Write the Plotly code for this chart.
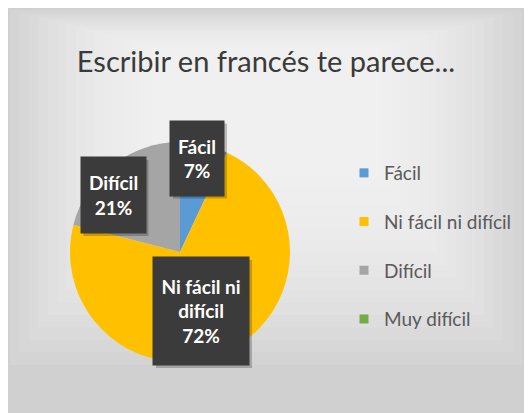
import plotly.graph_objects as go

# ---- data ----
categories = ["Fácil", "Ni fácil ni difícil", "Difícil", "Muy difícil"]
values = [7, 72, 21, 0]
label_texts = ["Fácil<br>7%", "Ni fácil ni<br>difícil<br>72%", "Difícil<br>21%"]
title_text = "Escribir en francés te parece..."
colors = ["#5B9BD5", "#FFC000", "#A5A5A5", "#70AD47"]

W, H = 532, 413
OFF = 8  # page body margin


def px(x):
    return (x - OFF) / W


def py(y):
    return 1 - (y - OFF) / H


fig = go.Figure()

R = 110
cx, cy = 180, 252
fig.add_trace(go.Pie(
    labels=categories, values=values, sort=False, direction="clockwise", rotation=0,
    marker=dict(colors=colors, line=dict(width=0)),
    textinfo="none", hoverinfo="label+percent", showlegend=False,
    domain=dict(x=[px(cx - R), px(cx + R)], y=[py(cy + R), py(cy - R)]),
))

# legend entries
for c, col in zip(categories, colors):
    fig.add_trace(go.Scatter(
        x=[None], y=[None], mode="markers", name=c, legendgroup=c,
        marker=dict(symbol="square", size=9, color=col),
    ))

# background panel with soft gradient imitation
shapes = [dict(type="rect", xref="paper", yref="paper", x0=0, x1=1, y0=0, y1=1,
               fillcolor="#d0d0d0", line=dict(width=0), layer="below")]
steps = 16
for i in range(steps):
    f = i / steps
    shapes.append(dict(type="rect", xref="paper", yref="paper",
                       x0=px(10 + 150 * f), x1=px(522 - 150 * f),
                       y0=py(365 - 200 * f), y1=py(10 + 40 * f),
                       fillcolor="white", opacity=0.09, line=dict(width=0), layer="below"))

annos = []
# label boxes: (center x px, center y px, width, height)
boxes = [(197, 158, 54, 75), (201, 311, 96, 108), (113, 195, 65, 76)]
for (bx, by, bw, bh), t in zip(boxes, label_texts):
    shapes.append(dict(type="rect", xref="paper", yref="paper",
                       x0=px(bx - bw/2 + 3), x1=px(bx + bw/2 + 3),
                       y0=py(by + bh/2 + 3), y1=py(by - bh/2 + 3),
                       fillcolor="rgba(0,0,0,0.22)", line=dict(width=0), layer="above"))
    annos.append(dict(text=t, xref="paper", yref="paper", x=px(bx), y=py(by),
                      xanchor="center", yanchor="middle", showarrow=False,
                      width=bw, height=bh, bgcolor="#3b3b3b", borderpad=0,
                      font=dict(family="Lato", size=19, color="white", weight="bold")))

fig.update_layout(
    width=W, height=H, margin=dict(l=0, r=0, t=0, b=0),
    paper_bgcolor="white", plot_bgcolor="rgba(0,0,0,0)",
    xaxis=dict(visible=False), yaxis=dict(visible=False),
    title=dict(text=title_text, x=px(266), xanchor="center", y=py(62), yanchor="middle",
               font=dict(family="Lato", size=29, color="#3a3a3a")),
    legend=dict(x=px(344), y=py(154), xanchor="left", yanchor="top",
                font=dict(family="Lato", size=19, color="#595959"),
                tracegroupgap=21, bgcolor="rgba(0,0,0,0)", itemclick=False),
    shapes=shapes, annotations=annos,
)

fig.write_html("out.html")
